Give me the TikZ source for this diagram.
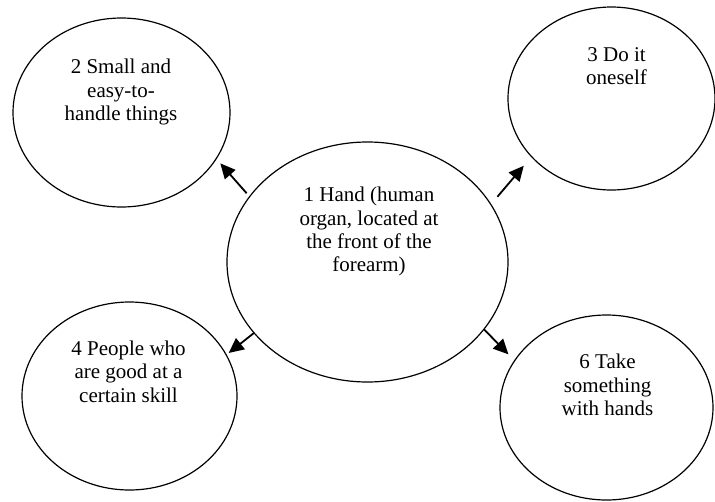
\documentclass[tikz,border=0pt]{standalone}
\usepackage{fontspec}
\setmainfont{Liberation Serif}
\usetikzlibrary{shapes.geometric,arrows.meta}

\tikzset{
  bubble/.style={draw=black, ellipse, line width=1.2pt, inner sep=0pt, outer sep=0pt},
  bubbletext/.style={anchor=north, align=center, inner sep=0pt,
    font=\fontsize{21}{23.3}\selectfont, text=black},
  link/.style={line width=1.8pt, -{Triangle[length=15pt,width=14pt]}}
}

\begin{document}
\begin{tikzpicture}[x=1pt, y=-1pt]
  \useasboundingbox (0,0) rectangle (715,501);

  % ellipses
  \node[bubble, minimum width=281pt, minimum height=240pt] (n1) at (367.5,262) {};
  \node[bubble, minimum width=217pt, minimum height=189pt] (n2) at (121.5,112.5) {};
  \node[bubble, minimum width=207pt, minimum height=183pt] (n3) at (611.5,98.5) {};
  \node[bubble, minimum width=215pt, minimum height=188pt] (n4) at (129.5,396) {};
  \node[bubble, minimum width=213pt, minimum height=185pt] (n6) at (606.5,407.5) {};

  % labels
  \node[bubbletext] (t1) at (369,187) {1 Hand (human\\organ, located at\\the front of the\\forearm)};
  \node[bubbletext] (t2) at (121,59) {2 Small and\\easy-to-\\handle things};
  \node[bubbletext] (t3) at (616.5,47.4) {3 Do it\\oneself};
  \node[bubbletext] (t4) at (128.5,340.7) {4 People who\\are good at a\\certain skill};
  \node[bubbletext] (t6) at (607.5,354) {6 Take\\something\\with hands};

  % connectors
  \draw[link, shorten <=4.6pt, shorten >=6.3pt] (n1.151.8) -- (n2.-26.4);
  \draw[link, shorten <=10.2pt, shorten >=12pt] (n1.25) -- (n3.-144.5);
  \draw[link, shorten >=3.2pt] (n1.-148.8) -- (n4.23.5);
  \draw[link, shorten >=8.9pt] (n1.-30.5) -- (n6.153.5);
\end{tikzpicture}
\end{document}
